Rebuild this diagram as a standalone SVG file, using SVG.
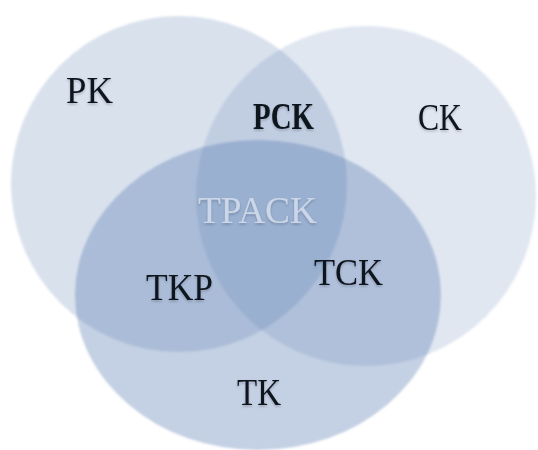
<svg xmlns="http://www.w3.org/2000/svg" width="538" height="450" viewBox="0 0 538 450">
  <defs>
    <filter id="soft" x="-10%" y="-10%" width="120%" height="120%">
      <feGaussianBlur stdDeviation="1.2"/>
    </filter>
    <filter id="shadow" x="-20%" y="-30%" width="140%" height="170%">
      <feDropShadow dx="0" dy="1.5" stdDeviation="1" flood-color="#1a2433" flood-opacity="0.25"/>
    </filter>
  </defs>
  <style>
    .set { fill: #4a70aa; filter: url(#soft); }
    .lbl { font-family: "Liberation Serif", "DejaVu Serif", serif; font-size: 37px; fill: #10151f; filter: url(#shadow); }
    .bold { font-weight: bold; }
    .core { fill: #cbd7e8; }
  </style>
  <rect width="538" height="450" fill="#ffffff"/>
  <g id="pk"><circle class="set" cx="179" cy="184" r="168" fill-opacity="0.21"/></g>
  <g id="ck"><circle class="set" cx="366" cy="196" r="170" fill-opacity="0.17"/></g>
  <g id="tk"><ellipse class="set" cx="258" cy="295" rx="183" ry="155" fill-opacity="0.33"/></g>
  <g id="connectors"/>
  <g id="labels">
    <text class="lbl" x="66" y="103" textLength="47" lengthAdjust="spacingAndGlyphs">PK</text>
    <text class="lbl bold" x="253" y="129" font-size="34" textLength="61" lengthAdjust="spacingAndGlyphs">PCK</text>
    <text class="lbl" x="418" y="130" textLength="44" lengthAdjust="spacingAndGlyphs">CK</text>
    <text class="lbl core" x="198" y="223" textLength="119" lengthAdjust="spacingAndGlyphs">TPACK</text>
    <text class="lbl" x="146" y="300" textLength="67" lengthAdjust="spacingAndGlyphs">TKP</text>
    <text class="lbl" x="314" y="285" textLength="69" lengthAdjust="spacingAndGlyphs">TCK</text>
    <text class="lbl" x="237" y="405" textLength="44" lengthAdjust="spacingAndGlyphs">TK</text>
  </g>
</svg>
